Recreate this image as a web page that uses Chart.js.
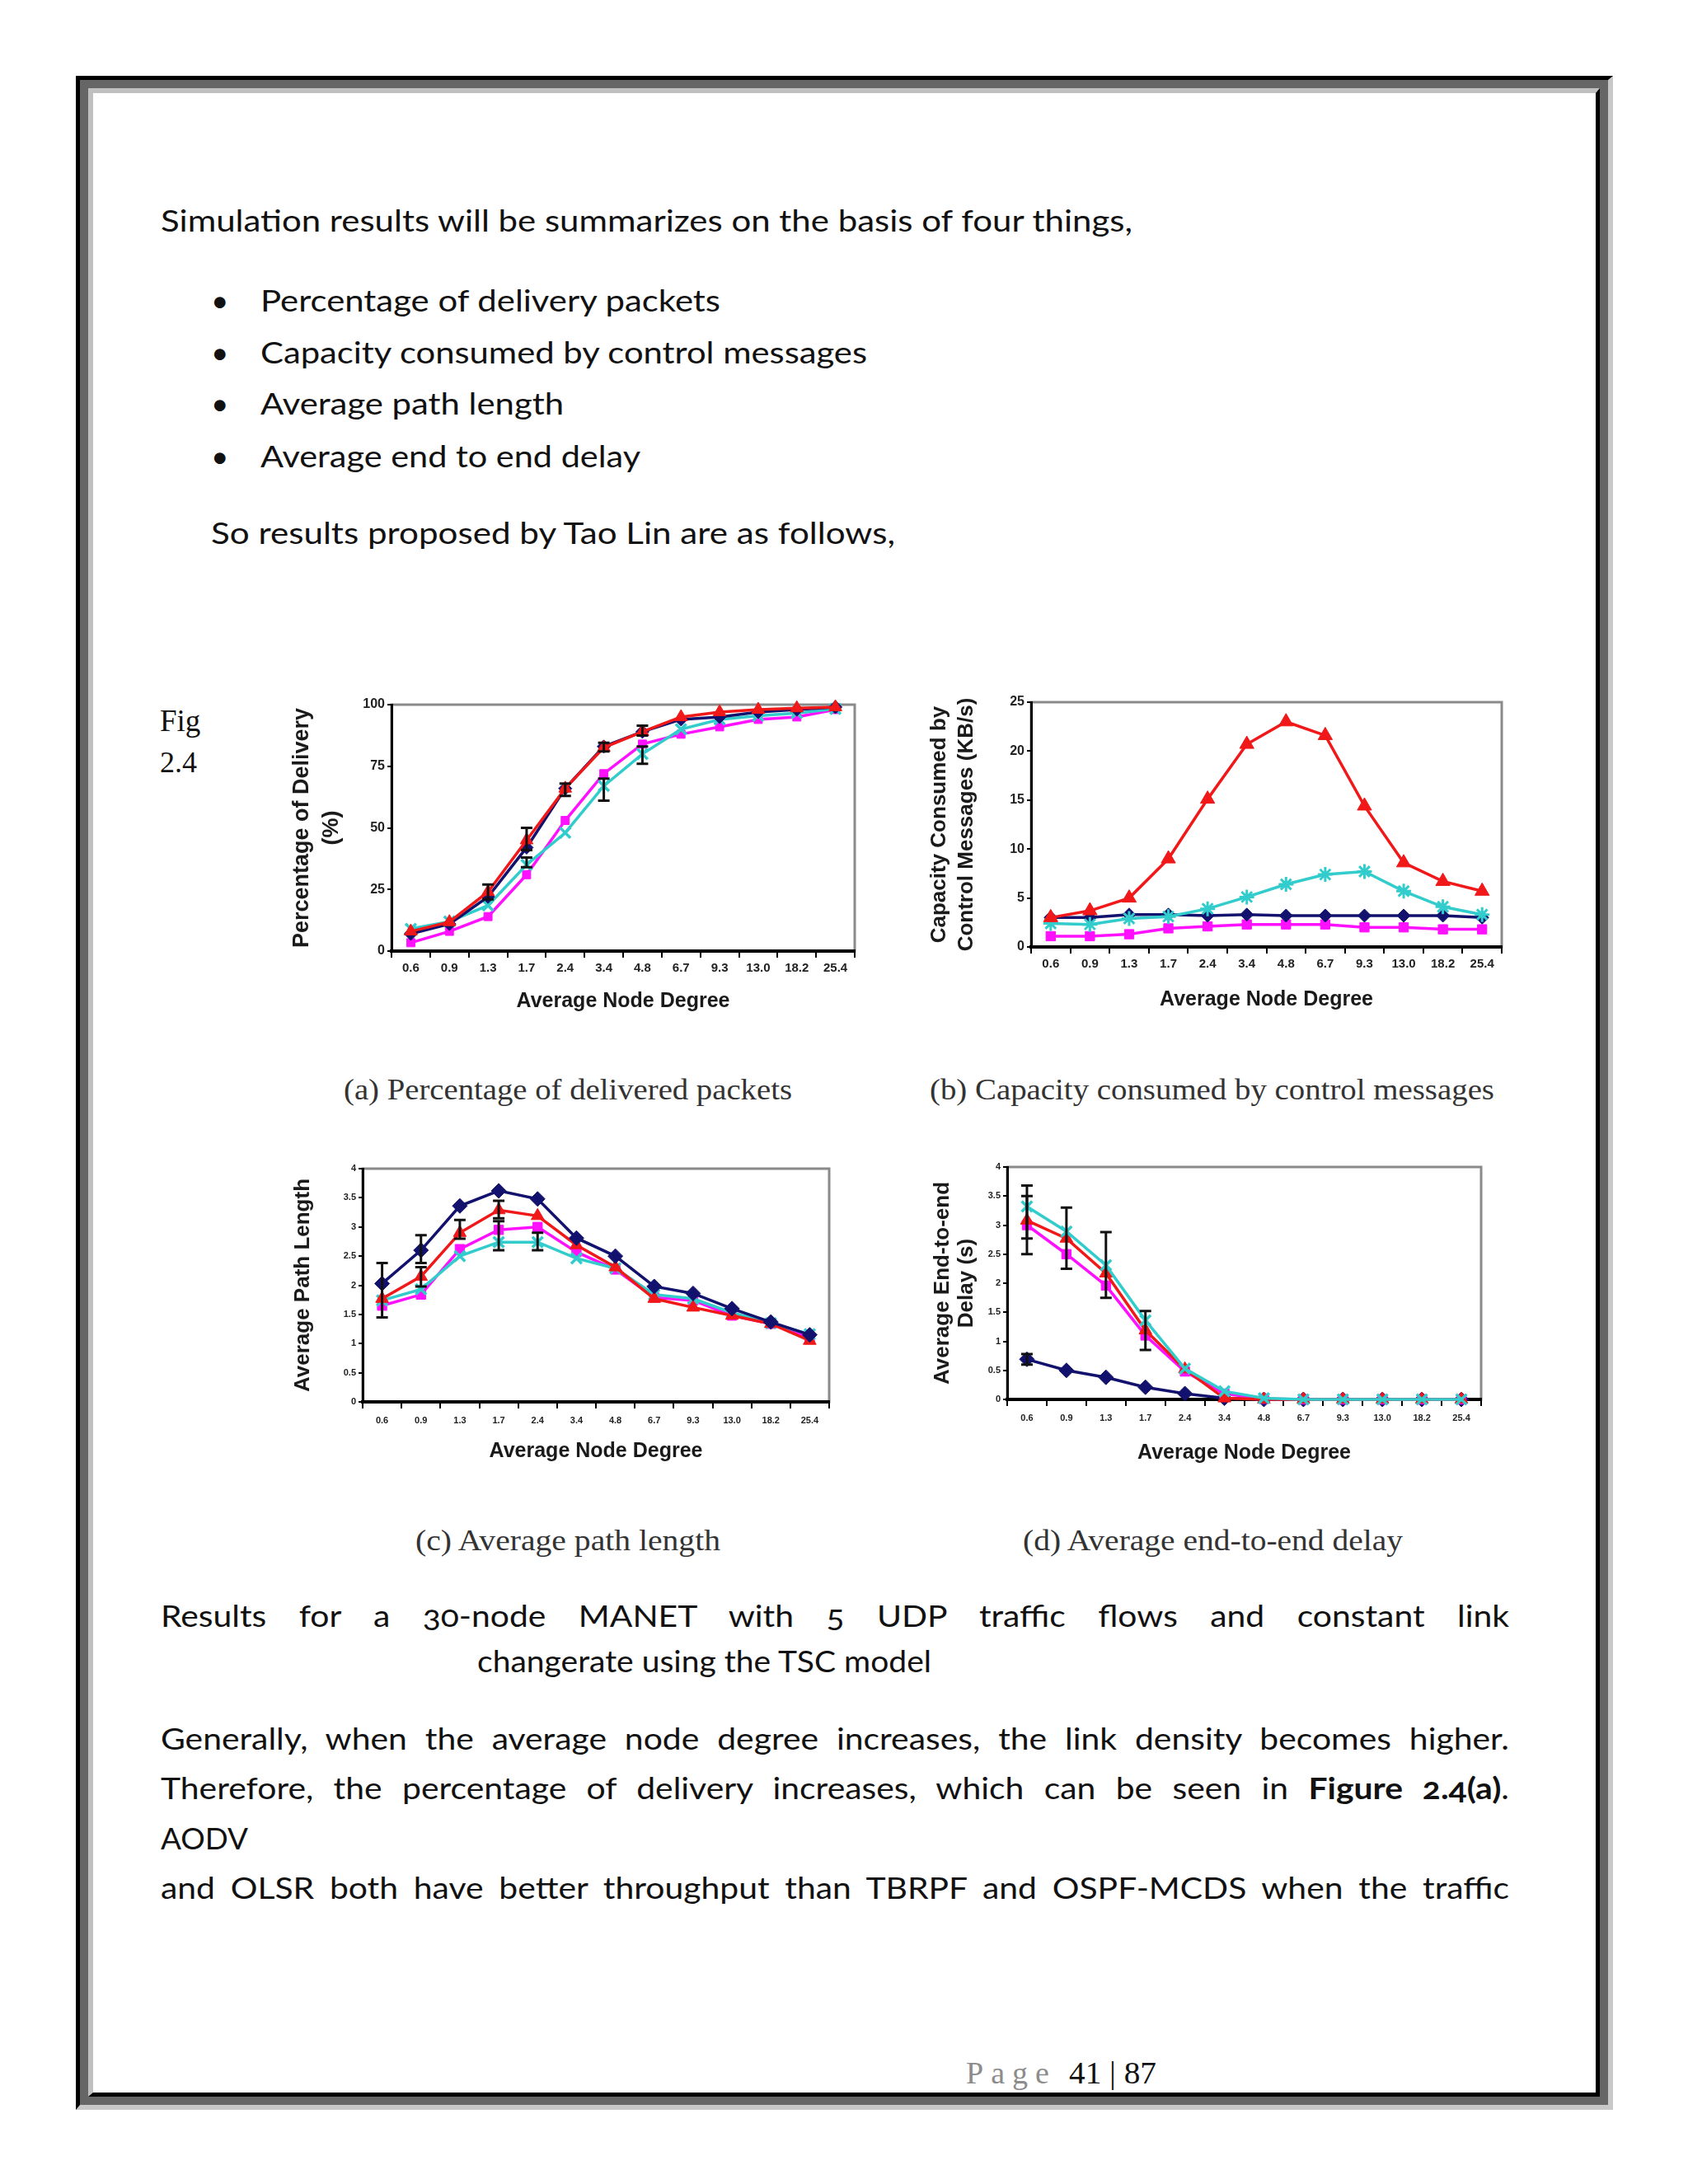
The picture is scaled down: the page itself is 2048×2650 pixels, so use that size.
<!DOCTYPE html>
<html>
<head>
<meta charset="utf-8">
<script src="https://cdn.jsdelivr.net/npm/chart.js@4.4.1/dist/chart.umd.min.js"></script>
<style>
  html, body { margin:0; padding:0; background:#fff; }
  #page { position:relative; width:2048px; height:2650px; background:#fff; overflow:hidden; }
  .f1 { position:absolute; left:92px; top:92px; width:1865px; height:2468px; box-sizing:border-box;
        border-style:solid; border-width:5px 6px 6px 5px; border-color:#000 #c8c8c8 #c8c8c8 #000; }
  .f2 { position:absolute; left:0; top:0; right:0; bottom:0; box-sizing:border-box; border:10px solid #666; }
  .f3 { position:absolute; left:0; top:0; right:0; bottom:0; box-sizing:border-box;
        border-style:solid; border-width:6px 5px 5px 6px; border-color:#c0c0c0 #000 #000 #c0c0c0; }
  .ln { position:absolute; white-space:nowrap; font-family:Lato, "Open Sans", sans-serif; font-size:37px; color:#111;
        transform-origin:0 0; }
  .onum { font-variant-numeric: oldstyle-nums; }
  .serif { font-family:"Liberation Serif", "DejaVu Serif", serif; }
  .cap { font-family:"Liberation Serif", "DejaVu Serif", serif; color:#333; font-size:36px; }
  canvas { position:absolute; }
</style>
</head>
<body>
<div id="page">
  <div class="f1"><div class="f2"><div class="f3"></div></div></div>
  <canvas id="ca" width="720" height="410" style="left:340px;top:830px;width:720px;height:410px"></canvas>
  <canvas id="cb" width="740" height="410" style="left:1105px;top:830px;width:740px;height:410px"></canvas>
  <canvas id="cc" width="690" height="395" style="left:340px;top:1395px;width:690px;height:395px"></canvas>
  <canvas id="cd" width="715" height="395" style="left:1105px;top:1395px;width:715px;height:395px"></canvas>
</div>
<script>
// ---------------- DATA ----------------
const degrees = ['0.6','0.9','1.3','1.7','2.4','3.4','4.8','6.7','9.3','13.0','18.2','25.4'];

// (a) Percentage of delivery (%)
const aNavy    = [7, 11, 22, 42, 66, 83, 89, 94, 95, 97, 98, 99];
const aMagenta = [3.4, 8, 14, 31, 53, 72, 84, 88, 91, 94, 95, 98];
const aRed     = [8, 11.8, 24, 45, 66, 82.6, 89, 95, 97, 98, 98.6, 99];
const aCyan    = [9, 12, 18.5, 35, 48, 67, 80, 90, 94, 95.5, 96.6, 98.3];
const aRedErr  = [null, null, [21,27], [41,50], [63,68], [81,84.5], [87.5,91.5], null, null, null, null, null];
const aCyanErr = [null, null, null, [34,38], null, [61,70], [76,83], null, null, null, null, null];
const aTicks = [0, 25, 50, 75, 100];

// (b) Capacity consumed by control messages (KB/s)
const bNavy    = [3.0, 3.0, 3.3, 3.3, 3.2, 3.3, 3.2, 3.2, 3.2, 3.2, 3.2, 3.0];
const bMagenta = [1.1, 1.1, 1.3, 1.9, 2.1, 2.3, 2.3, 2.3, 2.0, 2.0, 1.8, 1.8];
const bRed     = [3.0, 3.7, 5.0, 9.0, 15.1, 20.7, 23.0, 21.6, 14.4, 8.6, 6.7, 5.7];
const bCyan    = [2.4, 2.3, 2.9, 3.1, 3.9, 5.1, 6.4, 7.4, 7.7, 5.7, 4.1, 3.3];
const bTicks = [0, 5, 10, 15, 20, 25];

// (c) Average path length
const cNavy    = [2.03, 2.6, 3.36, 3.62, 3.48, 2.81, 2.5, 1.98, 1.86, 1.6, 1.37, 1.15];
const cMagenta = [1.65, 1.84, 2.62, 2.95, 3.0, 2.57, 2.27, 1.79, 1.74, 1.48, 1.34, 1.1];
const cRed     = [1.77, 2.15, 2.9, 3.29, 3.19, 2.69, 2.31, 1.77, 1.62, 1.48, 1.34, 1.05];
const cCyan    = [1.74, 1.93, 2.5, 2.74, 2.74, 2.46, 2.29, 1.84, 1.77, 1.53, 1.35, 1.16];
const cNavyErr = [[1.45,2.38], [2.38,2.86], null, null, null, null, null, null, null, null, null, null];
const cRedErr  = [null, [1.98,2.31], [2.8,3.12], [3.15,3.45], null, null, null, null, null, null, null, null];
const cCyanErr = [null, null, null, [2.6,3.1], [2.6,2.9], null, null, null, null, null, null, null];
const cTicks = [0, 0.5, 1, 1.5, 2, 2.5, 3, 3.5, 4];

// (d) Average end-to-end delay (s)
const dNavy    = [0.69, 0.5, 0.38, 0.21, 0.1, 0.02, 0, 0, 0, 0, 0, 0];
const dMagenta = [3.0, 2.5, 1.96, 1.1, 0.48, 0.1, 0.01, 0, 0, 0, 0, 0];
const dRed     = [3.08, 2.77, 2.17, 1.19, 0.52, 0.02, 0, 0, 0, 0, 0, 0];
const dCyan    = [3.32, 2.89, 2.31, 1.36, 0.53, 0.14, 0.02, 0, 0, 0, 0, 0];
const dCyanErr = [[2.5,3.68], [2.25,3.3], [1.75,2.88], [0.85,1.52], null, null, null, null, null, null, null, null];
const dRedErr  = [[2.77,3.5], null, null, null, null, null, null, null, null, null, null, null];
const dNavyErr = [[0.6,0.78], null, null, null, null, null, null, null, null, null, null, null];
const dTicks = [0, 0.5, 1, 1.5, 2, 2.5, 3, 3.5, 4];

// ---------------- STYLE ----------------
const NAVY = '#12126e', MAG = '#ff10ff', RED = '#f01818', CYAN = '#33cccc';

const framePlugin = {
  id: 'frame',
  beforeDraw(chart) {
    const {ctx, chartArea: a} = chart;
    ctx.save();
    ctx.strokeStyle = '#8a8a8a';
    ctx.lineWidth = 3;
    ctx.strokeRect(a.left, a.top, a.right - a.left, a.bottom - a.top);
    ctx.restore();
  }
};
const errPlugin = {
  id: 'errbars',
  afterDatasetsDraw(chart) {
    const {ctx} = chart;
    const xs = chart.scales.x, ys = chart.scales.y;
    ctx.save();
    ctx.strokeStyle = '#111';
    ctx.lineWidth = 3;
    chart.data.datasets.forEach(ds => {
      if (!ds.err) return;
      ds.err.forEach((e, i) => {
        if (!e) return;
        const x = xs.getPixelForValue(i);
        const y1 = ys.getPixelForValue(e[0]), y2 = ys.getPixelForValue(e[1]);
        ctx.beginPath();
        ctx.moveTo(x, y1); ctx.lineTo(x, y2);
        ctx.moveTo(x - 7, y1); ctx.lineTo(x + 7, y1);
        ctx.moveTo(x - 7, y2); ctx.lineTo(x + 7, y2);
        ctx.stroke();
      });
    });
    ctx.restore();
  }
};

function ds(data, color, style, radius, order, err, bw) {
  return {
    data, borderColor: color, backgroundColor: color, pointBackgroundColor: color,
    pointBorderColor: color, pointStyle: style, pointRadius: radius, pointBorderWidth: bw || 1,
    borderWidth: 3.5, order, err, clip: false, tension: 0
  };
}

function makeChart(id, cfg) {
  const tickFont = {family: '"Liberation Sans", Arial, sans-serif', weight: 'bold', size: cfg.tickSize};
  const titleFont = {family: '"Liberation Sans", Arial, sans-serif', weight: 'bold'};
  return new Chart(document.getElementById(id), {
    type: 'line',
    data: { labels: degrees, datasets: cfg.datasets },
    plugins: [framePlugin, errPlugin],
    options: {
      responsive: false, animation: false, devicePixelRatio: 1,
      layout: { padding: { left: 0, top: cfg.padTop, right: cfg.padRight, bottom: 0 } },
      plugins: { legend: { display: false }, tooltip: { enabled: false } },
      scales: {
        x: {
          type: 'category', offset: true,
          grid: { offset: true, drawOnChartArea: false, drawTicks: true, tickLength: 8, color: '#000', lineWidth: 2 },
          border: { display: true, color: '#000', width: 4 },
          ticks: { font: tickFont, color: '#222', maxRotation: 0, autoSkip: false, padding: cfg.xTickPad },
          title: { display: true, text: 'Average Node Degree', font: {...titleFont, size: 25, lineHeight: 1.2}, color: '#1a1a1a',
                   padding: { top: 0, bottom: cfg.xTitlePad } },
          afterFit: s => { s.height = cfg.xHeight; }
        },
        y: {
          min: cfg.ticks[0], max: cfg.ticks[cfg.ticks.length - 1],
          afterBuildTicks: s => { s.ticks = cfg.ticks.map(v => ({value: v})); },
          grid: { drawOnChartArea: false, drawTicks: true, tickLength: 5, color: '#000', lineWidth: 2 },
          border: { display: true, color: '#000', width: 3 },
          ticks: { font: {...tickFont, size: cfg.yTickSize}, color: '#222', padding: 3, callback: v => String(v) },
          title: { display: true, text: cfg.yTitle, font: {...titleFont, size: cfg.yTitleSize, lineHeight: cfg.yLH}, color: '#1a1a1a',
                   padding: { top: cfg.yTitlePad, bottom: 0 } },
          afterFit: s => { s.width = cfg.yWidth; }
        }
      }
    }
  });
}

function build() {
  makeChart('ca', {
    datasets: [
      ds(aRed, RED, 'triangle', 9, 1, aRedErr),
      ds(aNavy, NAVY, 'rectRot', 8, 2),
      ds(aCyan, CYAN, 'crossRot', 9, 3, aCyanErr, 3.5),
      ds(aMagenta, MAG, 'rect', 7, 4)
    ],
    ticks: aTicks, tickSize: 15, yTickSize: 16, yTitleSize: 27, yTitle: ['Percentage of Delivery', '(%)'], yLH: 1.333,
    yWidth: 135, padTop: 25, padRight: 23, xHeight: 86, yTitlePad: 9, xTitlePad: 10, xTickPad: 4
  });
  makeChart('cb', {
    datasets: [
      ds(bRed, RED, 'triangle', 10, 1),
      ds(bCyan, CYAN, 'star', 9, 2, null, 3),
      ds(bNavy, NAVY, 'rectRot', 8, 3),
      ds(bMagenta, MAG, 'rect', 8, 4)
    ],
    ticks: bTicks, tickSize: 15, yTickSize: 16, yTitleSize: 26, yTitle: ['Capacity Consumed by', 'Control Messages (KB/s)'], yLH: 1.27,
    yWidth: 146, padTop: 22, padRight: 23, xHeight: 91, yTitlePad: 18, xTitlePad: 12, xTickPad: 4
  });
  makeChart('cc', {
    datasets: [
      ds(cNavy, NAVY, 'rectRot', 9, 1, cNavyErr),
      ds(cRed, RED, 'triangle', 9, 2, cRedErr),
      ds(cCyan, CYAN, 'crossRot', 9, 3, cCyanErr, 3.5),
      ds(cMagenta, MAG, 'rect', 8, 4)
    ],
    ticks: cTicks, tickSize: 11, yTickSize: 11, yTitleSize: 26, yTitle: 'Average Path Length', yLH: 1.2,
    yWidth: 100, padTop: 23, padRight: 24, xHeight: 89, yTitlePad: 12, xTitlePad: 14, xTickPad: 8
  });
  makeChart('cd', {
    datasets: [
      ds(dCyan, CYAN, 'crossRot', 9, 1, dCyanErr, 3.5),
      ds(dRed, RED, 'triangle', 9, 2, dRedErr),
      ds(dMagenta, MAG, 'rect', 8, 3),
      ds(dNavy, NAVY, 'rectRot', 9, 4, dNavyErr)
    ],
    ticks: dTicks, tickSize: 11, yTickSize: 11, yTitleSize: 26, yTitle: ['Average End-to-end', 'Delay (s)'], yLH: 1.1,
    yWidth: 117, padTop: 21, padRight: 23, xHeight: 92, yTitlePad: 25, xTitlePad: 12, xTickPad: 8
  });
}

// ---------------- PAGE TEXT ----------------
const page = document.getElementById('page');
const lines = [
  {html: 'Simulation results will be summarizes on the basis of four things,', x: 195, b: 281, w: 1179, body: true},
  {html: '•', x: 256, b: 378},
  {html: 'Percentage of delivery packets', x: 316, b: 378, w: 558, body: true},
  {html: '•', x: 256, b: 441},
  {html: 'Capacity consumed by control messages', x: 316, b: 441, w: 736, body: true},
  {html: '•', x: 256, b: 503},
  {html: 'Average path length', x: 316, b: 503, w: 368, body: true},
  {html: '•', x: 256, b: 567},
  {html: 'Average end to end delay', x: 316, b: 567, w: 461, body: true},
  {html: 'So results proposed by Tao Lin are as follows,', x: 256, b: 660, w: 830, body: true},
  {html: 'Fig', x: 194, b: 887, cls: 'serif', fs: 37},
  {html: '2.4', x: 194, b: 937, cls: 'serif', fs: 36},
  {html: '(a) Percentage of delivered packets', x: 417, b: 1334, w: 544, cls: 'cap'},
  {html: '(b) Capacity consumed by control messages', x: 1128, b: 1334, w: 685, cls: 'cap'},
  {html: '(c) Average path length', x: 504, b: 1881, w: 370, cls: 'cap'},
  {html: '(d) Average end-to-end delay', x: 1241, b: 1881, w: 461, cls: 'cap'},
  {html: 'Results for a 30-node MANET with 5 UDP traffic flows and constant link', x: 195, b: 1974, w: 1636, j: true, cls: 'onum'},
  {html: 'changerate using the TSC model', x: 579, b: 2029, w: 551, body: true},
  {html: 'Generally, when the average node degree increases, the link density becomes higher.', x: 195, b: 2123, w: 1636, j: true},
  {html: 'Therefore, the percentage of delivery increases, which can be seen in <b class="onum">Figure 2.4(a)</b>.', x: 195, b: 2183, w: 1636, j: true},
  {html: 'AODV', x: 195, b: 2244, w: 106, body: true},
  {html: 'and OLSR both have better throughput than TBRPF and OSPF-MCDS when the traffic', x: 195, b: 2304, w: 1636, j: true},
  {html: 'Page', x: 1172, b: 2528, cls: 'serif', fs: 38, color: '#8c8c8c', ls: 9},
  {html: '41 | 87', x: 1297, b: 2528, w: 106, cls: 'serif', fs: 38}
];

let bodyRatio = 1;
function placeLine(s) {
  const d = document.createElement('div');
  d.className = 'ln ' + (s.cls || '');
  d.innerHTML = s.html;
  if (s.fs) d.style.fontSize = s.fs + 'px';
  if (s.color) d.style.color = s.color;
  if (s.ls) d.style.letterSpacing = s.ls + 'px';
  d.style.left = s.x + 'px';
  d.style.top = '0px';
  page.appendChild(d);
  let ratio = null;
  if (s.w) {
    const w0 = d.getBoundingClientRect().width;
    if (s.j) {
      const r = bodyRatio;
      const gaps = d.textContent.split(' ').length - 1;
      const extra = (s.w - w0 * r) / gaps / r;
      d.style.wordSpacing = extra + 'px';
      d.style.transform = 'scaleX(' + r + ')';
    } else {
      ratio = s.w / w0;
      d.style.transform = 'scaleX(' + ratio + ')';
    }
  }
  const m = document.createElement('span');
  m.style.cssText = 'display:inline-block;width:0;height:0;vertical-align:baseline;';
  d.appendChild(m);
  const off = m.getBoundingClientRect().bottom - d.getBoundingClientRect().top;
  d.removeChild(m);
  d.style.top = (s.b - off) + 'px';
  return ratio;
}

function init() {
  const rs = [];
  lines.filter(s => !s.j).forEach(s => { const r = placeLine(s); if (s.body && r) rs.push(r); });
  bodyRatio = rs.reduce((a, b) => a + b, 0) / rs.length;
  lines.filter(s => s.j).forEach(placeLine);
  build();
}
if (document.fonts && document.fonts.ready) { document.fonts.ready.then(init); } else { init(); }
</script>
</body>
</html>
